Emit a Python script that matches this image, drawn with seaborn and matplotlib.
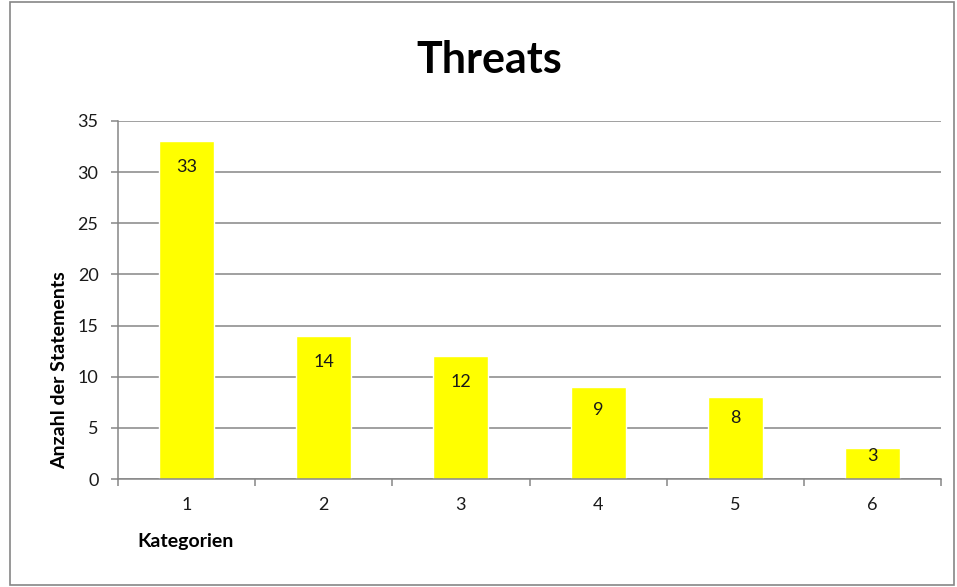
import matplotlib
matplotlib.use("Agg")
import matplotlib.pyplot as plt
from matplotlib.patches import Rectangle
import seaborn as sns
import pandas as pd

categories = ["1", "2", "3", "4", "5", "6"]
counts = [33, 14, 12, 9, 8, 3]
y_ticks = [0, 5, 10, 15, 20, 25, 30, 35]

sns.set_theme(style="white")
plt.rcParams["font.family"] = ["Lato", "DejaVu Sans"]

W, H = 957, 587
fig = plt.figure(figsize=(W / 100, H / 100), dpi=100)
fig.patch.set_facecolor("white")
grey = "#868686"

# chart frame
fig.patches.append(Rectangle((10 / W, 2 / H), 944 / W, 583 / H, transform=fig.transFigure,
                             fill=False, edgecolor=grey, linewidth=1.2))

ax = fig.add_axes([118 / W, 1 - 479 / H, 823 / W, 358 / H])
df = pd.DataFrame({"Kategorie": categories, "Anzahl": counts})
sns.barplot(data=df, x="Kategorie", y="Anzahl", color="#FFFF00", saturation=1,
            width=0.4, ax=ax, zorder=3)

ax.set_ylim(0, 35)
ax.set_xlim(-0.5, len(categories) - 0.5)
ax.set_yticks(y_ticks)
ax.set_yticklabels([str(t) for t in y_ticks], fontsize=13, color="#1a1a1a")
ax.set_xticklabels(categories, fontsize=13, color="#1a1a1a")
ax.set_xlabel("")
ax.set_ylabel("")

ax.yaxis.grid(True, color=grey, linewidth=1.1, zorder=0)
ax.set_axisbelow(True)
for side in ["top", "right"]:
    ax.spines[side].set_visible(False)
for side in ["left", "bottom"]:
    ax.spines[side].set_color(grey)
    ax.spines[side].set_linewidth(1.1)
    ax.spines[side].set_zorder(4)

ax.tick_params(axis="y", which="major", length=5, width=1.1, color=grey, left=True, pad=9)
ax.tick_params(axis="x", which="major", length=0, pad=13)
ax.set_xticks([i - 0.5 for i in range(len(categories) + 1)], minor=True)
ax.tick_params(axis="x", which="minor", length=5, width=1.1, color=grey, bottom=True)

# value labels inside the top of each bar
px_per_unit = 358 / 35
for i, v in enumerate(counts):
    off = min(26, v * px_per_unit * 0.25)
    ax.annotate(str(v), xy=(i, v), xytext=(0, -off * 0.72), textcoords="offset points",
                ha="center", va="center", fontsize=13, color="#1a1a1a", zorder=5)

fig.text(489 / W, 1 - 60 / H, "Threats", ha="center", va="center",
         fontsize=31, fontweight="bold", color="black")
fig.text(60 / W, 1 - 370 / H, "Anzahl der Statements", rotation=90, ha="center",
         va="center", fontsize=14, fontweight="bold", color="black")
fig.text(137 / W, 1 - 542 / H, "Kategorien", ha="left", va="center",
         fontsize=14, fontweight="bold", color="black")

fig.savefig("out.png", dpi=100)
